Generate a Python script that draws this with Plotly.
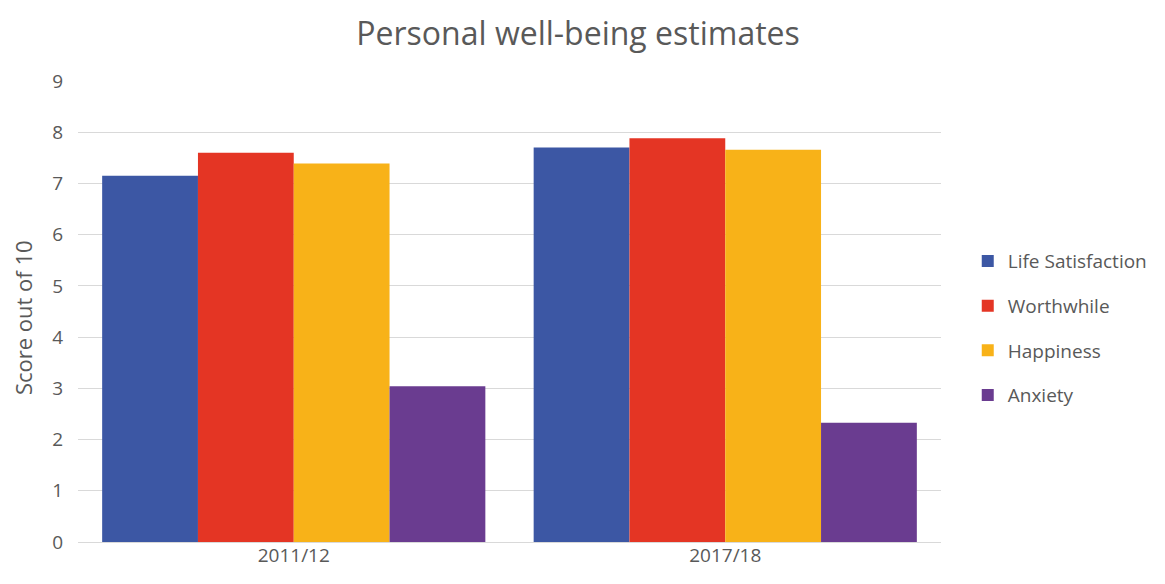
import plotly.graph_objects as go

categories = ["2011/12", "2017/18"]
series_names = ["Life Satisfaction", "Worthwhile", "Happiness", "Anxiety"]
life_satisfaction = [7.15, 7.70]
worthwhile = [7.60, 7.88]
happiness = [7.39, 7.66]
anxiety = [3.04, 2.33]
colors = ["#3C57A4", "#E43524", "#F8B218", "#6A3C90"]
y_ticks = [0, 1, 2, 3, 4, 5, 6, 7, 8, 9]

fig = go.Figure()
for i, (name, vals) in enumerate(zip(series_names, [life_satisfaction, worthwhile, happiness, anxiety])):
    fig.add_trace(go.Bar(
        x=categories, y=vals, name=name,
        marker=dict(color=colors[i], line=dict(width=0)),
        legendgroup=f"g{i}",
    ))

font_family = "Open Sans, Lato, sans-serif"
grey = "#595959"
fig.update_layout(
    width=1157, height=576,
    barmode="group", bargap=0.112, bargroupgap=0,
    paper_bgcolor="white", plot_bgcolor="white",
    margin=dict(l=70, r=222, t=73, b=42),
    font=dict(family=font_family, color=grey, size=19),
    title=dict(text="Personal well-being estimates", x=0.4927, xanchor="center",
               xref="container", yref="container", y=0.955, yanchor="middle",
               font=dict(size=32, color=grey, family=font_family)),
    xaxis=dict(showgrid=False, showline=False, ticks="", tickfont=dict(size=19, color=grey)),
    yaxis=dict(range=[0, 9], tickvals=y_ticks, showgrid=True, gridcolor="#D9D9D9", gridwidth=1,
               zeroline=True, zerolinecolor="#D9D9D9", zerolinewidth=1,
               showline=False, ticks="", ticklabelstandoff=14,
               tickfont=dict(size=19, color=grey)),
    legend=dict(x=1.031, xanchor="left", y=0.464, yanchor="middle",
                traceorder="grouped", tracegroupgap=17,
                font=dict(size=19, color=grey), itemwidth=30),
    annotations=[dict(text="Score out of 10", textangle=-90, showarrow=False,
                      xref="paper", yref="paper", x=-0.0636, y=0.486,
                      xanchor="center", yanchor="middle",
                      font=dict(size=22, color=grey, family=font_family))],
)

fig.write_html("out.html")
